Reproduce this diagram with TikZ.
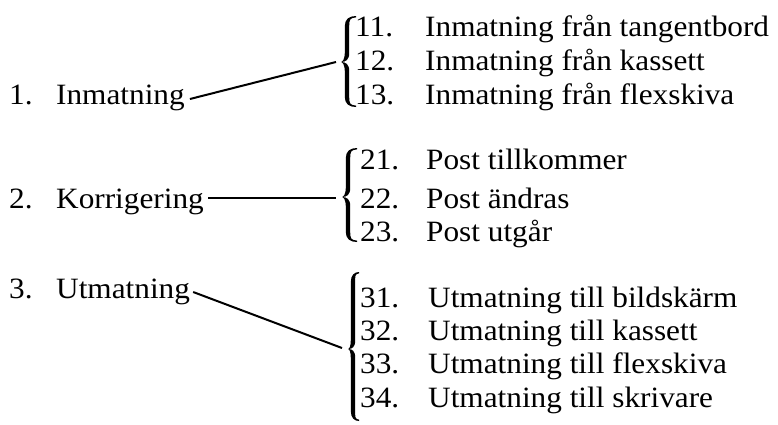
\documentclass[tikz,border=0pt]{standalone}
\usepackage{fontspec}
\setmainfont{Liberation Serif}[FakeStretch=1.06]
% filled curly brace: #1 stem x, #2 top y, #3 tip y, #4 bottom y, #5 tip x, #6 end x
\newcommand\curlybrace[6]{%
  \fill (#6,#2) .. controls ({#1+0.25*(#6-#1)},#2) and ({#1-2.2},{#2+3}) .. ({#1-2.2},{#2+10})
    -- ({#1-2.2},{#3-9}) .. controls ({#1-2.2},{#3-3}) and ({#5+1.5},#3) .. (#5,#3)
    .. controls ({#5+1.5},#3) and ({#1-2.2},{#3+3}) .. ({#1-2.2},{#3+9})
    -- ({#1-2.2},{#4-10}) .. controls ({#1-2.2},{#4-3}) and ({#1+0.25*(#6-#1)},#4) .. (#6,#4)
    -- (#6,{#4-1.4}) .. controls ({#1+0.3*(#6-#1)},{#4-1.8}) and ({#1+2.2},{#4-4}) .. ({#1+2.2},{#4-10})
    -- ({#1+2.2},{#3+9}) .. controls ({#1+2.2},{#3+2}) and ({#5+4.5},#3) .. (#5,#3)
    .. controls ({#5+4.5},#3) and ({#1+2.2},{#3-2}) .. ({#1+2.2},{#3-9})
    -- ({#1+2.2},{#2+10}) .. controls ({#1+2.2},{#2+4}) and ({#1+0.3*(#6-#1)},{#2+1.8}) .. (#6,{#2+1.4})
    -- cycle;}
\begin{document}
\begin{tikzpicture}[x=1pt,y=-1pt,
  lbl/.style={anchor=base west,inner sep=0pt,font=\fontsize{29.5}{31}\selectfont},
  conn/.style={line width=2pt}]
\useasboundingbox (0,0) rectangle (778,424);

% main headings
\node[lbl] (n1) at (9,104) {1.};
\node[lbl] (h1) at (56,104) {Inmatning};
\node[lbl] (n2) at (9,208) {2.};
\node[lbl] (h2) at (56,208) {Korrigering};
\node[lbl] (n3) at (9,298) {3.};
\node[lbl] (h3) at (56,298) {Utmatning};

% braces
\curlybrace{347}{16}{62}{107}{341}{356}
\curlybrace{348}{148}{197}{242}{342}{357}
\curlybrace{353}{272}{349}{421}{348}{359}

% brace tips for connectors
\coordinate (b1) at (336,62);
\coordinate (b2) at (336,198);
\coordinate (b3) at (342,348);

% sub-items
\node[lbl] (i11) at (355,36) {11.};
\node[lbl] (t11) at (425,36) {Inmatning från tangentbord};
\node[lbl] (i12) at (355,70) {12.};
\node[lbl] (t12) at (425,70) {Inmatning från kassett};
\node[lbl] (i13) at (355,104) {13.};
\node[lbl] (t13) at (425,104) {Inmatning från flexskiva};

\node[lbl] (i21) at (360,169) {21.};
\node[lbl] (t21) at (426,169) {Post tillkommer};
\node[lbl] (i22) at (360,208) {22.};
\node[lbl] (t22) at (426,208) {Post ändras};
\node[lbl] (i23) at (360,241) {23.};
\node[lbl] (t23) at (426,241) {Post utgår};

\node[lbl] (i31) at (360,307) {31.};
\node[lbl] (t31) at (428,307) {Utmatning till bildskärm};
\node[lbl] (i32) at (360,340) {32.};
\node[lbl] (t32) at (428,340) {Utmatning till kassett};
\node[lbl] (i33) at (360,373) {33.};
\node[lbl] (t33) at (428,373) {Utmatning till flexskiva};
\node[lbl] (i34) at (360,407) {34.};
\node[lbl] (t34) at (428,407) {Utmatning till skrivare};

% connectors
\draw[conn] ([xshift=5pt,yshift=5pt]h1.base east) -- (b1);
\draw[conn] ([xshift=4pt,yshift=10pt]h2.base east) -- (b2);
\draw[conn] ([xshift=3pt,yshift=6pt]h3.base east) -- (b3);
\end{tikzpicture}
\end{document}
